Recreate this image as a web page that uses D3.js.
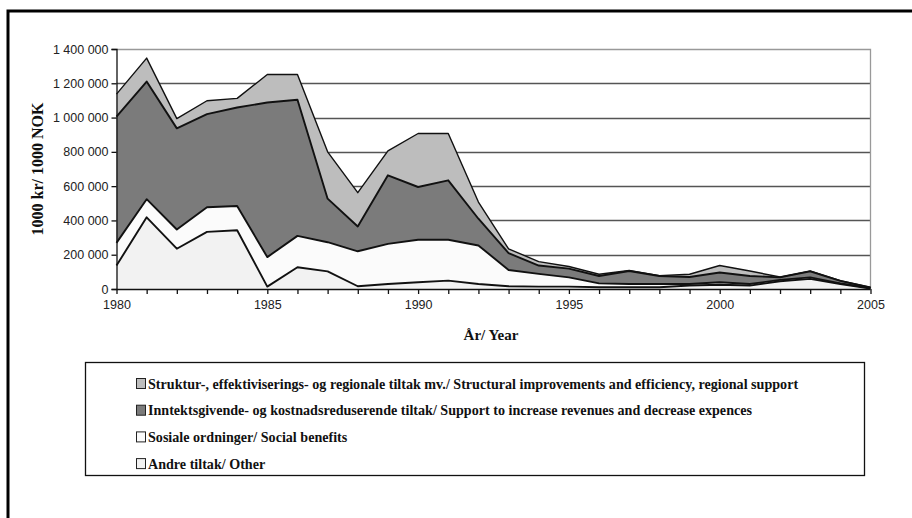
<!DOCTYPE html>
<meta charset='utf-8'>
<head>
  <title>Tilskudd</title>
</head>
<style>
body { margin: 0; background: #fff; }
svg { display: block; }
.tick text { font-family: "Liberation Sans", Arial, sans-serif; font-size: 12.5px; fill: #222; }
.title { font-family: "Liberation Serif", "Times New Roman", serif; font-weight: bold; fill: #111; }
.legend text { font-family: "Liberation Serif", "Times New Roman", serif; font-weight: bold; font-size: 14.1px; fill: #111; }
</style>
<body>
<svg width='912' height='518'></svg>
<script src='https://cdn.jsdelivr.net/npm/d3@7'></script>
<script>
var years = d3.range(1980, 2006);

// values in 1000 NOK
var andre    = [137000, 418000, 235000, 333000, 343000, 14000, 127000, 103000, 16000, 29000, 39000, 49000, 29000, 16000, 14000, 14000, 10000, 10000, 10000, 20000, 25000, 20000, 45000, 59000, 29000, 3000];
var sosiale  = [132000, 106000, 112000, 144000, 141000, 172000, 183000, 170000, 204000, 234000, 248000, 238000, 225000, 95000, 74000, 54000, 23000, 19000, 19000, 9000, 14000, 9000, 8000, 9000, 4000, 2000];
var inntekt  = [737000, 686000, 590000, 543000, 575000, 902000, 794000, 254000, 145000, 400000, 308000, 347000, 156000, 98000, 49000, 51000, 43000, 76000, 47000, 41000, 57000, 47000, 15000, 35000, 14000, 3000];
var struktur = [131000, 137000, 57000, 78000, 53000, 163000, 147000, 273000, 197000, 143000, 312000, 273000, 97000, 25000, 23000, 12000, 10000, 3000, 2000, 16000, 41000, 29000, 2000, 3000, 2000, 2000];

var keys = ['andre', 'sosiale', 'inntekt', 'struktur'];
var colors = { andre: '#f2f2f2', sosiale: '#fbfbfb', inntekt: '#7b7b7b', struktur: '#bdbdbd' };
var legendLabels = [
  ['struktur', 'Struktur-, effektiviserings- og regionale tiltak mv./ Structural improvements and efficiency, regional support'],
  ['inntekt', 'Inntektsgivende- og kostnadsreduserende tiltak/ Support to increase revenues and decrease expences'],
  ['sosiale', 'Sosiale ordninger/ Social benefits'],
  ['andre', 'Andre tiltak/ Other']
];
var yTicks = d3.range(0, 1400001, 200000);
var xTicks = [1980, 1985, 1990, 1995, 2000, 2005];

var table = years.map(function(y, i) {
  return { year: y, andre: andre[i], sosiale: sosiale[i], inntekt: inntekt[i], struktur: struktur[i] };
});

var svg = d3.select('svg');

// outer frame (runs off the page right and bottom)
svg.append('rect')
  .attr('x', 8).attr('y', 11).attr('width', 1000).attr('height', 600)
  .attr('fill', 'none').attr('stroke', '#000').attr('stroke-width', 3);

var plotLeft = 116.5, plotRight = 870.5, plotTop = 49, plotBottom = 289;

var x = d3.scaleLinear().domain([1980, 2005]).range([plotLeft, plotRight]);
var y = d3.scaleLinear().domain([0, 1400000]).range([plotBottom, plotTop]);

// grid
svg.append('g').selectAll('line')
  .data(yTicks.filter(function(d) { return d > 0 && d < 1400000; }))
  .enter().append('line')
  .attr('x1', plotLeft).attr('x2', plotRight)
  .attr('y1', function(d) { return Math.round(y(d)) + 0.5; })
  .attr('y2', function(d) { return Math.round(y(d)) + 0.5; })
  .attr('stroke', '#555').attr('stroke-width', 1.3);

// plot border top/right
svg.append('path')
  .attr('d', 'M' + plotLeft + ',' + (plotTop + 0.5) + 'H' + plotRight + 'V' + plotBottom)
  .attr('fill', 'none').attr('stroke', '#999').attr('stroke-width', 1.3);

var series = d3.stack().keys(keys)(table);

var area = d3.area()
  .x(function(d) { return x(d.data.year); })
  .y0(function(d) { return y(d[0]); })
  .y1(function(d) { return y(d[1]); });

var line = d3.line()
  .x(function(d) { return x(d.data.year); })
  .y(function(d) { return y(d[1]); });

svg.append('g').selectAll('path')
  .data(series)
  .enter().append('path')
  .attr('d', area)
  .attr('fill', function(d) { return colors[d.key]; });

svg.append('g').selectAll('path')
  .data(series)
  .enter().append('path')
  .attr('d', line)
  .attr('fill', 'none')
  .attr('stroke', '#111')
  .attr('stroke-width', function(d) { return d.key === 'struktur' ? 1.4 : 1.9; })
  .attr('stroke-linejoin', 'round');

// axes
var yAxis = d3.axisLeft(y)
  .tickValues(yTicks)
  .tickSize(5)
  .tickPadding(3)
  .tickFormat(function(d) { return d3.format(',')(d).replace(/,/g, ' '); });

svg.append('g')
  .attr('transform', 'translate(' + plotLeft + ',0)')
  .call(yAxis)
  .call(function(g) { g.selectAll('line, path').attr('stroke', '#111').attr('stroke-width', 1.3); });

var xAxis = d3.axisBottom(x)
  .tickValues(years)
  .tickSize(5)
  .tickPadding(6)
  .tickFormat(function(d) { return xTicks.indexOf(d) >= 0 ? d : ''; });

svg.append('g')
  .attr('transform', 'translate(0,' + plotBottom + ')')
  .call(xAxis)
  .call(function(g) {
    g.select('.domain').attr('d', 'M' + plotLeft + ',0.5H' + plotRight);
    g.selectAll('line, path').attr('stroke', '#111').attr('stroke-width', 1.3);
  });

// titles
svg.append('text')
  .attr('class', 'title')
  .attr('transform', 'translate(43,169) rotate(-90)')
  .attr('text-anchor', 'middle')
  .style('font-size', '16px')
  .text('1000 kr/ 1000 NOK');

svg.append('text')
  .attr('class', 'title')
  .attr('x', 491).attr('y', 340)
  .attr('text-anchor', 'middle')
  .style('font-size', '15px')
  .text('År/ Year');

// legend
var lg = svg.append('g').attr('class', 'legend');
lg.append('rect')
  .attr('x', 85.5).attr('y', 362.5).attr('width', 779).attr('height', 113)
  .attr('fill', '#fff').attr('stroke', '#111').attr('stroke-width', 1.3);

var items = lg.selectAll('g.item')
  .data(legendLabels)
  .enter().append('g')
  .attr('class', 'item')
  .attr('transform', function(d, i) { return 'translate(136,' + (378 + i * 26.7) + ')'; });

items.append('rect')
  .attr('x', 0.5).attr('y', 0.5).attr('width', 9).attr('height', 10)
  .attr('fill', function(d) { return colors[d[0]]; })
  .attr('stroke', '#222').attr('stroke-width', 1);

items.append('text')
  .attr('x', 12).attr('y', 10.5)
  .text(function(d) { return d[1]; });
</script>
</body>
</html>
